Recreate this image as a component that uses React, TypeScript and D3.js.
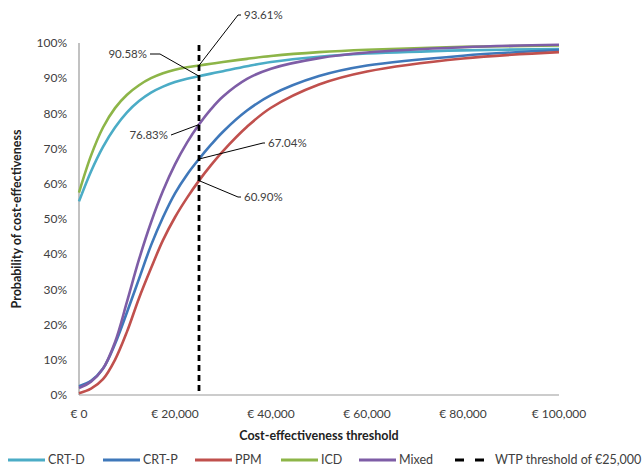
import React from "react";
import * as d3 from "d3";

const thresholds = [0, 2500, 5000, 7500, 10000, 12500, 15000, 17500, 20000, 22500, 25000, 27500, 30000, 35000, 40000, 50000, 60000, 80000, 100000];

const crtD = [55, 63.5, 70.5, 76, 80.3, 83.5, 85.9, 87.6, 88.9, 89.85, 90.58, 91.3, 92, 93.4, 94.6, 96.1, 97, 97.9, 98.3];
const crtP = [2.5, 4, 7.5, 14.5, 23.5, 33, 42.5, 50.5, 57.3, 62.6, 67.04, 71.1, 74.8, 80.8, 85.2, 90.6, 93.6, 96.4, 98];
const ppm = [0.5, 1.8, 4.5, 10, 18, 27.5, 36, 44, 50.5, 56, 60.9, 65.3, 69.3, 76.2, 81.6, 88.2, 91.9, 95.6, 97.4];
const icd = [57.5, 68, 76, 81.5, 85.3, 88, 90, 91.4, 92.4, 93.1, 93.61, 94.1, 94.6, 95.5, 96.3, 97.4, 98.1, 98.9, 99.3];
const mixed = [2, 3.8, 7.5, 15, 26.5, 38.5, 49, 58, 65.5, 71.7, 76.83, 81.2, 84.8, 89.8, 92.7, 95.7, 97.3, 98.8, 99.5];

const seriesNames = ["CRT-D", "CRT-P", "PPM", "ICD", "Mixed"];
const seriesValues = [crtD, crtP, ppm, icd, mixed];
const seriesColors = ["#4BACC6", "#3F78BA", "#C0504D", "#8DB548", "#7E5DA6"];

const yTicks = [0, 10, 20, 30, 40, 50, 60, 70, 80, 90, 100];
const xTicks = [0, 20000, 40000, 60000, 80000, 100000];
const wtp = 25000;

// value labels at the WTP line, with their leader elbows
const callouts = [
  { label: "93.61%", v: 93.61, tx: 243, ty: 15, side: "right", ex: 238, ey: 15 },
  { label: "90.58%", v: 90.58, tx: 148, ty: 54, side: "left", ex: 160, ey: 54 },
  { label: "76.83%", v: 76.83, tx: 169, ty: 135, side: "left", ex: 171, ey: 135 },
  { label: "67.04%", v: 67.04, tx: 267, ty: 143, side: "right", ex: 263, ey: 143 },
  { label: "60.90%", v: 60.9, tx: 243, ty: 197, side: "right", ex: 238, ey: 197 },
];

const font = "Lato, 'Open Sans', sans-serif";

export default function App() {
  const x = d3.scaleLinear().domain([0, 100000]).range([79, 559]);
  const y = d3.scaleLinear().domain([0, 100]).range([395, 43]);
  const line = d3
    .line<number>()
    .x((_, i) => x(thresholds[i]))
    .y((d) => y(d))
    .curve(d3.curveCatmullRom.alpha(0.5));
  const fmt = d3.format(",");

  const legend = [
    { name: "CRT-D", x0: 8, color: seriesColors[0] },
    { name: "CRT-P", x0: 103, color: seriesColors[1] },
    { name: "PPM", x0: 195, color: seriesColors[2] },
    { name: "ICD", x0: 281, color: seriesColors[3] },
    { name: "Mixed", x0: 359, color: seriesColors[4] },
  ];

  return (
    <svg width={644} height={468} style={{ position: "absolute", left: 0, top: 0, background: "#fff" }} fontFamily={font}>
      <line x1={79} x2={79} y1={43} y2={395} stroke="#999" strokeWidth={1.2} />
      <line x1={79} x2={559} y1={395} y2={395} stroke="#999" strokeWidth={1.2} />
      {yTicks.map((t) => (
        <text key={t} x={67} y={y(t)} dy="0.35em" textAnchor="end" fontSize={12} fill="#404040">
          {t}%
        </text>
      ))}
      {xTicks.map((t) => (
        <text key={t} x={x(t)} y={414} dy="0.35em" textAnchor="middle" fontSize={12} fill="#404040">
          € {fmt(t)}
        </text>
      ))}
      <text x={319} y={436} dy="0.35em" textAnchor="middle" fontSize={12.5} fontWeight="bold" fill="#222">
        Cost-effectiveness threshold
      </text>
      <text transform="translate(17,219) rotate(-90)" dy="0.35em" textAnchor="middle" fontSize={12.5} fontWeight="bold" fill="#222">
        Probability of cost-effectiveness
      </text>
      {seriesValues.map((vals, i) => (
        <path key={seriesNames[i]} d={line(vals) ?? ""} fill="none" stroke={seriesColors[i]} strokeWidth={2.6} />
      ))}
      <line x1={x(wtp)} x2={x(wtp)} y1={45} y2={395} stroke="#000" strokeWidth={2.8} strokeDasharray="6,4" />
      {callouts.map((c) => (
        <g key={c.label}>
          <polyline
            points={`${x(wtp)},${y(c.v)} ${c.ex},${c.ey} ${c.side === "right" ? c.tx - 2 : c.tx + 2},${c.ty}`}
            fill="none"
            stroke="#000"
            strokeWidth={1}
          />
          <text x={c.side === "right" ? c.tx + 1 : c.tx - 1} y={c.ty} dy="0.35em" textAnchor={c.side === "right" ? "start" : "end"} fontSize={11.5} fill="#404040">
            {c.label}
          </text>
        </g>
      ))}
      {legend.map((l) => (
        <g key={l.name}>
          <line x1={l.x0} x2={l.x0 + 37} y1={460} y2={460} stroke={l.color} strokeWidth={3} />
          <text x={l.x0 + 40} y={460} dy="0.35em" fontSize={12.5} fill="#404040">
            {l.name}
          </text>
        </g>
      ))}
      <line x1={455} x2={484} y1={460} y2={460} stroke="#000" strokeWidth={3} strokeDasharray="9,11" />
      <text x={495} y={460} dy="0.35em" fontSize={12.5} fill="#404040">
        WTP threshold of €25,000
      </text>
    </svg>
  );
}
